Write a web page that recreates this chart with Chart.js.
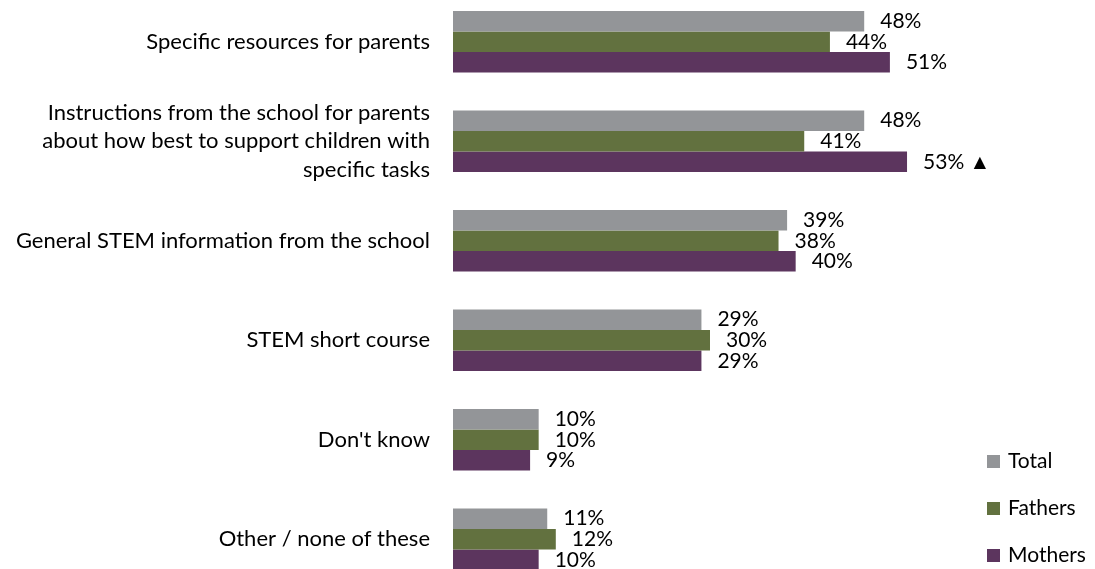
<!DOCTYPE html>
<html>
<head>
<meta charset="utf-8">
<script src="https://cdn.jsdelivr.net/npm/chart.js@4.4.1/dist/chart.umd.min.js"></script>
<style>
  html, body { margin: 0; padding: 0; background: #fff; overflow: hidden; }
  body { width: 1095px; height: 569px; position: relative; }
  #wrap { position: absolute; left: 0; top: -8px; width: 1095px; height: 597px; }
  #legend { position: absolute; left: 987px; top: 447px; font-family: Lato, sans-serif; font-size: 21px; color: #000; }
  #legend div { height: 47px; display: flex; align-items: flex-start; }
  #legend span.sw { display: inline-block; width: 13px; height: 13px; margin-right: 8px; margin-top: 8px; }
</style>
</head>
<body>
<div id="wrap"><canvas id="chart"></canvas></div>
<div id="legend"></div>
<script>
// categories and values
const categories = [
    'Specific resources for parents',
    ['Instructions from the school for parents', 'about how best to support children with', 'specific tasks'],
    'General STEM information from the school',
    'STEM short course',
    "Don't know",
    'Other / none of these'
];
const seriesNames = ['Total', 'Fathers', 'Mothers'];
const totalValues = [48, 48, 39, 29, 10, 11];
const fatherValues = [44, 41, 38, 30, 10, 12];
const motherValues = [51, 53, 40, 29, 9, 10];
// significance marker shown after a value
const motherMarks = ['', ' \u25B2', '', '', '', ''];

const colors = ['#939598', '#62713f', '#5c355e'];
const FONT = 'Lato, sans-serif';

const legendEl = document.getElementById('legend');
seriesNames.forEach((name, i) => {
    const row = document.createElement('div');
    row.innerHTML = '<span class="sw" style="background:' + colors[i] + '"></span>' + name;
    legendEl.appendChild(row);
});

const valueLabels = {
    id: 'valueLabels',
    afterDatasetsDraw(chart) {
        const ctx = chart.ctx;
        ctx.save();
        ctx.fillStyle = '#000';
        ctx.font = '21px ' + FONT;
        ctx.textAlign = 'left';
        ctx.textBaseline = 'middle';
        chart.data.datasets.forEach((ds, i) => {
            const meta = chart.getDatasetMeta(i);
            meta.data.forEach((bar, j) => {
                let txt = ds.data[j] + '%';
                if (i === 2) txt += motherMarks[j];
                ctx.fillText(txt, bar.x + 16, bar.y);
            });
        });
        ctx.restore();
    }
};

new Chart(document.getElementById('chart'), {
    type: 'bar',
    data: {
        labels: categories,
        datasets: [
            { label: seriesNames[0], data: totalValues, backgroundColor: colors[0] },
            { label: seriesNames[1], data: fatherValues, backgroundColor: colors[1] },
            { label: seriesNames[2], data: motherValues, backgroundColor: colors[2] }
        ]
    },
    options: {
        indexAxis: 'y',
        responsive: true,
        maintainAspectRatio: false,
        animation: false,
        datasets: {
            bar: { categoryPercentage: 0.62, barPercentage: 1.0 }
        },
        layout: { padding: { left: 0, right: 128, top: 0, bottom: 0 } },
        plugins: {
            legend: { display: false },
            tooltip: { enabled: false }
        },
        scales: {
            x: {
                display: false,
                min: 0,
                max: 60
            },
            y: {
                grid: { display: false, drawTicks: false },
                border: { display: false },
                ticks: {
                    color: '#000',
                    padding: 23,
                    font: { family: FONT, size: 22, lineHeight: 1.3 }
                },
                afterFit(scale) {
                    scale.width = 453;
                    scale.paddingTop = 0;
                    scale.paddingBottom = 0;
                }
            }
        }
    },
    plugins: [valueLabels]
});
</script>
</body>
</html>
